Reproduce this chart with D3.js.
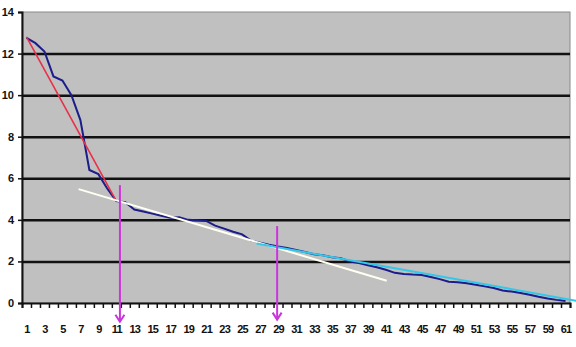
<!DOCTYPE html>
<html>
<head>
<meta charset="utf-8">
<script src="https://cdn.jsdelivr.net/npm/d3@7"></script>
<style>
  body { margin: 0; background: #fff; }
  svg text { font-family: "Liberation Sans", Arial, sans-serif; font-weight: bold; fill: #111; }
</style>
</head>
<body>
<div id="chart"></div>
<script>
// data
const categories = d3.range(1, 62);
const values = [
  12.75, 12.5, 12.1, 10.9, 10.7, 10.0, 8.8, 6.4, 6.2, 5.5,
  4.9, 4.85, 4.5, 4.4, 4.3, 4.2, 4.1, 4.13, 4.0, 3.98,
  3.95, 3.72, 3.58, 3.43, 3.3, 3.0, 2.9, 2.8, 2.72, 2.65,
  2.55, 2.45, 2.35, 2.3, 2.2, 2.15, 2.0, 1.92, 1.82, 1.72,
  1.6, 1.45, 1.4, 1.37, 1.35, 1.25, 1.15, 1.02, 1.0, 0.95,
  0.88, 0.8, 0.72, 0.6, 0.55, 0.48, 0.4, 0.3, 0.22, 0.15,
  0.1
];
const yTicks = [0, 2, 4, 6, 8, 10, 12, 14];
const xLabels = categories.filter((d) => d % 2 === 1);

// fitted segments [x, y] in category / value units
const redFit = [[1, 12.8], [11, 4.9]];
const whiteFit = [[6.8, 5.48], [41.1, 1.07]];
const cyanFit = [[26.6, 2.86], [62.6, 0.08]];

// arrows: category, top value, tip value
const arrows = [
  { x: 11.4, top: 5.67, tip: -0.9 },
  { x: 28.9, top: 3.7, tip: -0.8 }
];

const width = 576, height = 347;
const margin = { top: 12, right: 6, bottom: 44, left: 22 };
const plotW = width - margin.left - margin.right;
const plotH = height - margin.top - margin.bottom;

const svg = d3.select("#chart").append("svg")
  .attr("width", width).attr("height", height);

const x = d3.scaleLinear().domain([0.5, 61.5]).range([margin.left, margin.left + plotW]);
const y = d3.scaleLinear().domain([0, 14]).range([margin.top + plotH, margin.top]);

// plot area
svg.append("rect")
  .attr("x", x(0.5)).attr("y", y(14))
  .attr("width", x(61.5) - x(0.5)).attr("height", y(0) - y(14))
  .attr("fill", "#c0c0c0").attr("stroke", "#8a8a8a").attr("stroke-width", 1);

// gridlines
svg.append("g")
  .attr("transform", `translate(${x(0.5)},0)`)
  .call(d3.axisLeft(y).tickValues([2, 4, 6, 8, 10, 12]).tickSize(-(x(61.5) - x(0.5))).tickFormat(""))
  .call((g) => g.select(".domain").remove())
  .call((g) => g.selectAll("line").attr("stroke", "#111").attr("stroke-width", 2.5));

// y axis
svg.append("g")
  .attr("transform", `translate(${x(0.5)},0)`)
  .call(d3.axisLeft(y).tickValues(yTicks).tickSize(4).tickPadding(4))
  .call((g) => g.select(".domain").attr("stroke", "#111").attr("stroke-width", 2))
  .call((g) => g.selectAll("line").attr("stroke", "#111").attr("stroke-width", 1.5))
  .call((g) => g.selectAll("text").attr("font-size", 11));

// x axis ticks at category boundaries
svg.append("g")
  .attr("transform", `translate(0,${y(0)})`)
  .call(d3.axisBottom(x).tickValues(d3.range(0.5, 62, 1)).tickSize(5).tickFormat(""))
  .call((g) => g.select(".domain").attr("stroke", "#111").attr("stroke-width", 2))
  .call((g) => g.selectAll("line").attr("stroke", "#111").attr("stroke-width", 1.5));

// x labels
svg.append("g")
  .attr("transform", `translate(0,${y(0)})`)
  .call(d3.axisBottom(x).tickValues(xLabels).tickSize(0).tickPadding(22).tickFormat(d3.format("d")))
  .call((g) => g.select(".domain").remove())
  .call((g) => g.selectAll("text").attr("font-size", 11).attr("letter-spacing", -0.8));

const line = d3.line().x((d) => x(d[0])).y((d) => y(d[1]));

// data series
svg.append("path")
  .datum(categories.map((c, i) => [c, values[i]]))
  .attr("d", line)
  .attr("fill", "none").attr("stroke", "#1c1c8a").attr("stroke-width", 2);

// fits
svg.append("path").datum(redFit).attr("d", line)
  .attr("fill", "none").attr("stroke", "#e8304a").attr("stroke-width", 1.6);
svg.append("path").datum(whiteFit).attr("d", line)
  .attr("fill", "none").attr("stroke", "#fffff2").attr("stroke-width", 2);
svg.append("path").datum(cyanFit).attr("d", line)
  .attr("fill", "none").attr("stroke", "#33c8e8").attr("stroke-width", 2);

// arrows
const arr = svg.append("g").attr("stroke", "#cc33dd").attr("stroke-width", 2).attr("fill", "none");
arrows.forEach((a) => {
  arr.append("line")
    .attr("x1", x(a.x)).attr("x2", x(a.x))
    .attr("y1", y(a.top)).attr("y2", y(a.tip));
  arr.append("path")
    .attr("d", `M${x(a.x) - 4.5},${y(a.tip) - 7}L${x(a.x)},${y(a.tip)}L${x(a.x) + 4.5},${y(a.tip) - 7}`);
});
</script>
</body>
</html>
